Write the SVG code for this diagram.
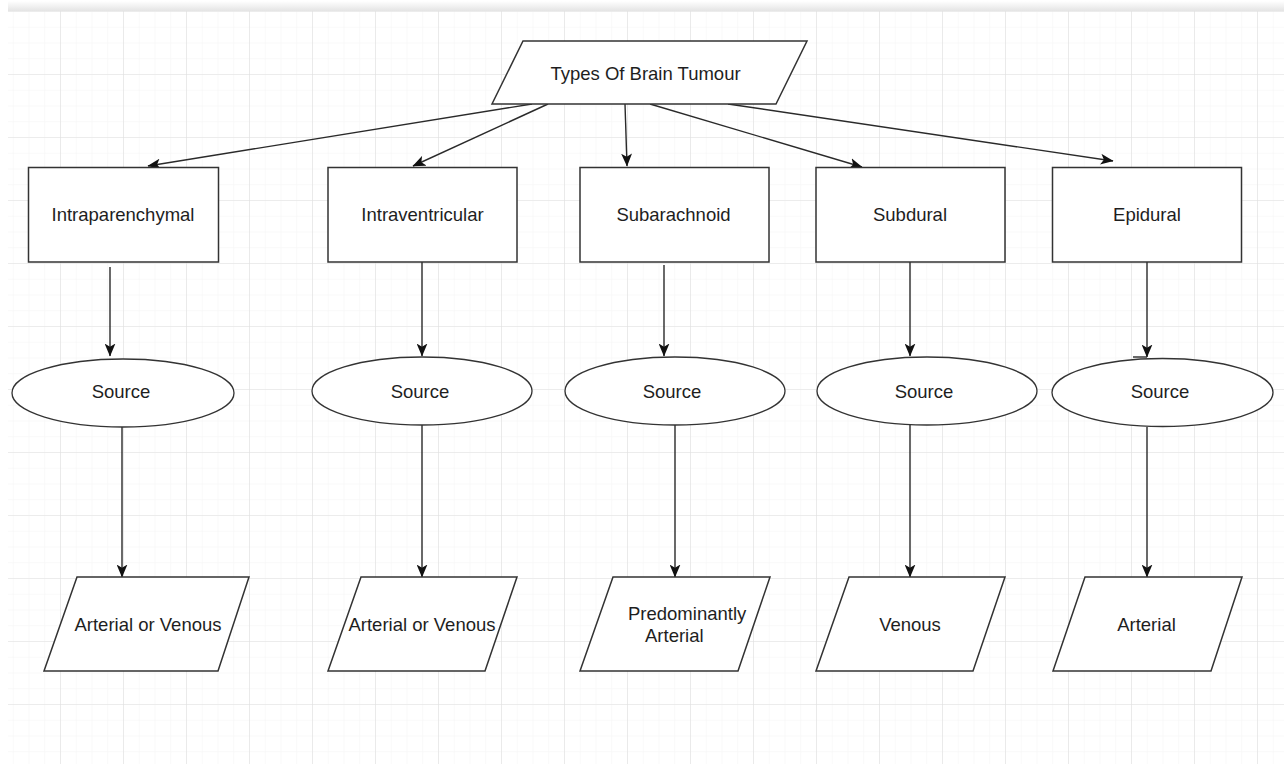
<svg xmlns="http://www.w3.org/2000/svg" width="1284" height="764" viewBox="0 0 1284 764">
<defs>
<linearGradient id="band" x1="0" y1="0" x2="0" y2="1">
<stop offset="0" stop-color="#ffffff"/>
<stop offset="1" stop-color="#e4e4e4"/>
</linearGradient>
<pattern id="minor" patternUnits="userSpaceOnUse" x="-3" y="11" width="15.75" height="15.75">
<path d="M0,0 H15.75 M0,0 V15.75" fill="none" stroke="#f3f3f3" stroke-width="1"/>
</pattern>
<pattern id="major" patternUnits="userSpaceOnUse" x="-3" y="11" width="63" height="63">
<path d="M0,0 H63 M0,0 V63" fill="none" stroke="#e0e0e0" stroke-width="1.2"/>
</pattern>
<marker id="arr" viewBox="0 0 12 10" refX="11.5" refY="5" markerWidth="13" markerHeight="11" markerUnits="userSpaceOnUse" orient="auto">
<path d="M0,0 L12,5 L0,10 L3,5 Z" fill="#111"/>
</marker>
<style>
.shape{fill:#ffffff;stroke:#333333;stroke-width:1.5}
.lbl{font-family:"Liberation Sans",Arial,sans-serif;font-size:18.5px;fill:#1e1e1e;text-anchor:middle}
.lbls{font-family:"Liberation Sans",Arial,sans-serif;font-size:18.5px;fill:#1e1e1e}
.conn path{fill:none;stroke:#2a2a2a;stroke-width:1.4;marker-end:url(#arr)}
</style>
</defs>
<rect width="1284" height="764" fill="#ffffff"/>
<rect x="8" y="11" width="1276" height="753" fill="url(#minor)"/>
<rect x="8" y="11" width="1276" height="753" fill="url(#major)"/>
<rect x="8" y="1" width="1276" height="10" fill="url(#band)"/>

<g id="connectors" class="conn">
<path d="M532,104 L148,166"/>
<path d="M548,104 L413,166"/>
<path d="M625,104 L627,166"/>
<path d="M650,104 L862,167"/>
<path d="M728,104 L1113,161"/>
<path d="M110,267 L110,356"/>
<path d="M422,262 L422,356"/>
<path d="M664,265 L664,356"/>
<path d="M910,262 L910,356"/>
<path d="M1147,262 L1147,357"/>
<path d="M1133,357 L1147,357" style="marker-end:none"/>
<path d="M122,427 L122,577"/>
<path d="M422,425 L422,577"/>
<path d="M675,425 L675,577"/>
<path d="M910,425 L910,577"/>
<path d="M1147,427 L1147,577"/>
</g>

<g id="n-root">
<polygon class="shape" points="523,41 807,41 776,104 492,104"/>
<text class="lbl" x="645.5" y="80">Types Of Brain Tumour</text>
</g>

<g id="n-intraparenchymal">
<rect class="shape" x="28.5" y="167.5" width="190" height="94.5"/>
<text class="lbl" x="123" y="221">Intraparenchymal</text>
</g>
<g id="n-intraventricular">
<rect class="shape" x="328" y="167.5" width="189" height="94.5"/>
<text class="lbl" x="422.5" y="221">Intraventricular</text>
</g>
<g id="n-subarachnoid">
<rect class="shape" x="580" y="167.5" width="189" height="94.5"/>
<text class="lbl" x="673.5" y="221">Subarachnoid</text>
</g>
<g id="n-subdural">
<rect class="shape" x="816" y="167.5" width="189" height="94.5"/>
<text class="lbl" x="910" y="221">Subdural</text>
</g>
<g id="n-epidural">
<rect class="shape" x="1052.5" y="167.5" width="189" height="94.5"/>
<text class="lbl" x="1147" y="221">Epidural</text>
</g>

<g id="n-source1">
<ellipse class="shape" cx="123" cy="393" rx="111" ry="34" style="stroke-width:1.3"/>
<text class="lbl" x="121" y="398">Source</text>
</g>
<g id="n-source2">
<ellipse class="shape" cx="422" cy="391" rx="110" ry="34" style="stroke-width:1.3"/>
<text class="lbl" x="420" y="398">Source</text>
</g>
<g id="n-source3">
<ellipse class="shape" cx="675" cy="391" rx="110" ry="34" style="stroke-width:1.3"/>
<text class="lbl" x="672" y="398">Source</text>
</g>
<g id="n-source4">
<ellipse class="shape" cx="927" cy="391" rx="110" ry="34" style="stroke-width:1.3"/>
<text class="lbl" x="924" y="398">Source</text>
</g>
<g id="n-source5">
<ellipse class="shape" cx="1162.5" cy="392.5" rx="110.5" ry="34" style="stroke-width:1.3"/>
<text class="lbl" x="1160" y="398">Source</text>
</g>

<g id="n-out1">
<polygon class="shape" points="77,577 249,577 218,671 44,671"/>
<text class="lbl" x="148" y="631">Arterial or Venous</text>
</g>
<g id="n-out2">
<polygon class="shape" points="361,577 517,577 485,671 328,671"/>
<text class="lbl" x="422" y="631">Arterial or Venous</text>
</g>
<g id="n-out3">
<polygon class="shape" points="613,577 770,577 738,671 580,671"/>
<text class="lbls" x="628" y="620">Predominantly</text>
<text class="lbls" x="645" y="642">Arterial</text>
</g>
<g id="n-out4">
<polygon class="shape" points="849,577 1005,577 973,671 816,671"/>
<text class="lbl" x="910" y="631">Venous</text>
</g>
<g id="n-out5">
<polygon class="shape" points="1085,577 1242,577 1211,671 1053,671"/>
<text class="lbl" x="1146.5" y="631">Arterial</text>
</g>
</svg>
